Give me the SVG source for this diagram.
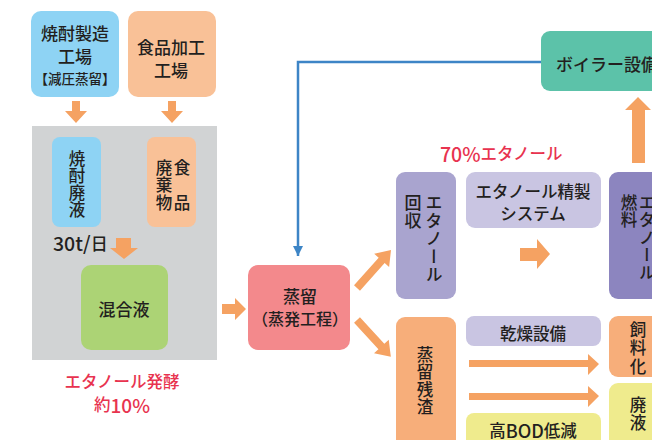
<svg xmlns="http://www.w3.org/2000/svg" width="652" height="440" viewBox="0 0 652 440">
<defs>
<style>
text{font-family:"Noto Sans CJK JP","Noto Sans",sans-serif;fill:#231f20;dominant-baseline:central;text-anchor:middle;font-weight:500;}
.v{writing-mode:vertical-rl;text-anchor:start;}
.red{fill:#e8334f;}
.arr{fill:#f5a262;}
.blue{fill:#8ed3f4;}
.org{fill:#f9c197;}
.org2{fill:#f7ae7a;}
.pur{fill:#a9a4cf;}
.lpur{fill:#c9c5e2;}
.dpur{fill:#8c85bf;}
.yel{fill:#efeb8d;}
</style>
<marker id="bh" markerUnits="userSpaceOnUse" markerWidth="12" markerHeight="12" refX="10" refY="5" orient="auto">
<path d="M0,0 L10,5 L0,10 Z" fill="#3d85c6"/>
</marker>
</defs>
<rect x="32" y="126" width="185" height="234" fill="#d1d3d4"/>
<g id="shochu-factory">
<rect class="blue" x="31" y="11" width="88" height="86" rx="10"/>
<text x="75" y="32" font-size="17">焼酎製造</text>
<text x="75" y="55" font-size="17">工場</text>
<text x="75" y="78" font-size="13.5">【減圧蒸留】</text>
</g>
<g id="food-factory">
<rect class="org" x="128" y="11" width="88" height="86" rx="10"/>
<text x="171" y="46" font-size="17">食品加工</text>
<text x="171" y="69" font-size="17">工場</text>
</g>
<g id="shochu-waste">
<rect class="blue" x="52" y="137" width="49" height="90" rx="8"/>
<text class="v" x="77" y="150" font-size="16.5" letter-spacing="0.5">焼酎廃液</text>
</g>
<g id="food-waste">
<rect class="org" x="147" y="137" width="49" height="90" rx="8"/>
<text class="v" x="182" y="159" font-size="16.5" letter-spacing="18.5">食品</text>
<text class="v" x="164" y="159" font-size="16.5" letter-spacing="1">廃棄物</text>
</g>
<text x="53" y="242" font-size="17" style="text-anchor:start"><tspan font-size="19.5">30t/</tspan>日</text>
<g id="mixed">
<rect x="81" y="265" width="87" height="85" rx="10" fill="#acd375"/>
<text x="124" y="308" font-size="17">混合液</text>
</g>
<text class="red" x="122" y="381" font-size="16.5">エタノール発酵</text>
<text class="red" x="122" y="404" font-size="16.5">約<tspan font-size="19">10%</tspan></text>
<g id="distill">
<rect x="248" y="265" width="102" height="85" rx="10" fill="#f3898c"/>
<text x="300" y="295" font-size="17">蒸留</text>
<text x="300" y="318" font-size="16">（蒸発工程）</text>
</g>
<g id="boiler">
<rect x="541" y="31" width="125" height="60" rx="9" fill="#5cc2a9"/>
<text x="556" y="63" font-size="17" style="text-anchor:start">ボイラー設備</text>
</g>
<text class="red" x="440" y="153" font-size="16.5" style="text-anchor:start"><tspan font-size="19.5">70%</tspan>エタノール</text>
<g id="ethanol-recovery">
<rect class="pur" x="396" y="172" width="60" height="127" rx="9"/>
<text class="v" x="434" y="194" font-size="17" letter-spacing="1">エタノール</text>
<text class="v" x="413" y="194" font-size="17" letter-spacing="1">回収</text>
</g>
<g id="purify">
<rect class="lpur" x="466" y="172" width="135" height="56" rx="9"/>
<text x="533" y="191" font-size="16.5">エタノール精製</text>
<text x="533" y="213" font-size="16.5">システム</text>
</g>
<g id="fuel-ethanol">
<rect class="dpur" x="609" y="172" width="60" height="127" rx="9"/>
<text class="v" x="647" y="194" font-size="16.5" letter-spacing="1">エタノール</text>
<text class="v" x="629" y="194" font-size="16.5" letter-spacing="1">燃料</text>
</g>
<g id="residue">
<rect class="org2" x="396" y="317" width="60" height="135" rx="9"/>
<text class="v" x="425" y="346" font-size="16.5" letter-spacing="1">蒸留残渣</text>
</g>
<g id="dryer">
<rect class="lpur" x="466" y="316" width="135" height="30" rx="8"/>
<text x="533" y="333" font-size="16.5">乾燥設備</text>
</g>
<g id="bod">
<rect class="yel" x="466" y="413" width="135" height="40" rx="8"/>
<text x="533" y="430" font-size="16.5">高<tspan font-size="18">BOD</tspan>低減</text>
</g>
<g id="feed">
<rect class="org2" x="609" y="316" width="60" height="61" rx="9"/>
<text class="v" x="638" y="321" font-size="16.5" letter-spacing="2">飼料化</text>
</g>
<g id="wastewater">
<rect class="yel" x="609" y="383" width="60" height="70" rx="9"/>
<text class="v" x="638" y="396" font-size="16.5" letter-spacing="2">廃液</text>
</g>
<g id="connectors">
<polygon class="arr" points="72,101 80,101 80,111 87,111 76,123 65,111 72,111"/>
<polygon class="arr" points="168,101 176,101 176,111 183,111 172,123 161,111 168,111"/>
<polygon class="arr" points="116,238 131,238 131,248 138,248 124,259 110,248 116,248"/>
<polygon class="arr" points="222,304 235,304 235,298 246,309 235,320 235,314 222,314"/>
<polygon class="arr" points="0,-4 37,-4 37,-10 51,0 37,10 37,4 0,4" transform="translate(357,288) rotate(-48.2)"/>
<polygon class="arr" points="0,-4 36,-4 36,-10 50,0 36,10 36,4 0,4" transform="translate(357,320) rotate(47.4)"/>
<polygon class="arr" points="520,248 537,248 537,239 550,254 537,269 537,261 520,261"/>
<polygon class="arr" points="632,163 645,163 645,110 651,110 638,97 625,110 632,110"/>
<polygon class="arr" points="469,360 588,360 588,354 599,364 588,375 588,367 469,367"/>
<polygon class="arr" points="469,393 588,393 588,386 599,396 588,407 588,400 469,400"/>
<path d="M541,62 H298 V256" fill="none" stroke="#3d85c6" stroke-width="2.5" marker-end="url(#bh)"/>
</g>
</svg>
